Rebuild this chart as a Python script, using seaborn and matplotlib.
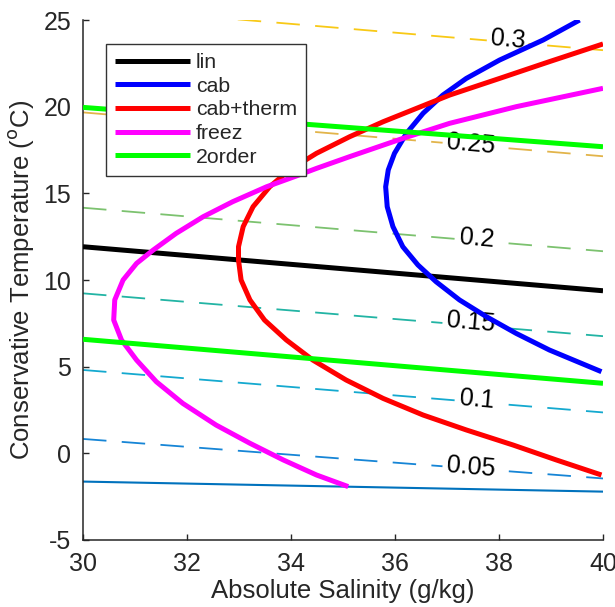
import matplotlib
matplotlib.use('Agg')
import matplotlib.pyplot as plt
import seaborn as sns

# ---- datos (S en g/kg, T en grados C) ----
lin_s = [30, 40]
lin_t = [11.92, 9.38]

cab_s = [39.97, 38.97, 38.33, 37.76, 37.24, 36.79, 36.44, 36.15, 35.96, 35.85, 35.82,
         35.87, 35.99, 36.22, 36.54, 36.92, 37.37, 38.01, 38.85, 39.55]
cab_t = [4.71, 5.96, 6.92, 7.88, 8.85, 9.9, 10.87, 11.92, 13.08, 14.23, 15.38,
         16.35, 17.31, 18.46, 19.62, 20.67, 21.63, 22.69, 23.85, 25.0]

therm_s = [39.97, 39.1, 38.27, 37.37, 36.54, 35.77, 35.06, 34.42, 33.91, 33.49, 33.21,
           33.04, 32.99, 32.99, 33.08, 33.27, 33.59, 33.97, 34.49, 35.13, 35.77, 36.41,
           37.05, 38.01, 38.97, 40.0]
therm_t = [-1.25, -0.38, 0.48, 1.35, 2.21, 3.17, 4.23, 5.38, 6.54, 7.69, 8.85,
           10.0, 11.15, 11.92, 13.08, 14.23, 15.38, 16.35, 17.31, 18.27, 19.13, 19.9,
           20.67, 21.63, 22.6, 23.62]

freez_s = [35.1, 34.49, 33.85, 33.21, 32.56, 31.92, 31.41, 31.03, 30.74, 30.59, 30.61,
           30.77, 31.03, 31.35, 31.79, 32.31, 32.88, 33.53, 34.1, 34.49, 35.13, 36.15,
           37.05, 38.33, 40.0]
freez_t = [-1.92, -1.25, -0.38, 0.58, 1.63, 2.88, 4.13, 5.38, 6.54, 7.69, 8.85,
           10.0, 10.96, 11.73, 12.69, 13.65, 14.52, 15.38, 16.0, 16.44, 17.12, 18.17,
           19.04, 20.0, 21.06]

order2_s = [30, 40]
order2_t_up = [19.96, 17.69]
order2_t_low = [6.58, 4.04]

# linea de congelamiento (solida, delgada)
frz_s = [30, 35, 40]
frz_t = [-1.63, -1.92, -2.21]

# contornos discontinuos: T en S=30 y S=40
niveles = ['0.05', '0.1', '0.15', '0.2', '0.25', '0.3']
cont_s = [30, 40]
cont_t30 = [0.83, 4.81, 9.23, 14.17, 19.67, 25.79]
cont_t40 = [-1.45, 2.36, 6.76, 11.66, 17.14, 23.26]
colores_cont = ['#1685d6', '#14a9cf', '#22b4a4', '#7cc26f', '#e2b44a', '#f8c916']
etiqueta_s = [37.45, 37.58, 37.45, 37.58, 37.45, 38.17]
etiqueta_t = [-0.79, 3.13, 7.56, 12.37, 17.85, 23.85]

# ---- estilo ----
sns.set_style('ticks')
plt.rcParams['font.family'] = ['Liberation Sans', 'DejaVu Sans']
plt.rcParams['axes.unicode_minus'] = False
plt.rcParams['text.color'] = '#262626'
plt.rcParams['axes.labelcolor'] = '#262626'

fig = plt.figure(figsize=(6.15, 6.07), dpi=100)
ax = fig.add_axes([0.135, 0.1104, 0.8455, 0.8566])

# contornos
for i, nv in enumerate(niveles):
    sns.lineplot(x=cont_s, y=[cont_t30[i], cont_t40[i]], ax=ax, color=colores_cont[i],
                 linewidth=1.3, zorder=1).lines[-1].set_dashes((13, 8.5))
    ax.text(etiqueta_s[i], etiqueta_t[i], nv, fontsize=18, rotation=-5, ha='center', va='center',
            color='black', zorder=2,
            bbox=dict(facecolor='white', edgecolor='none', pad=2.5))

sns.lineplot(x=frz_s, y=frz_t, ax=ax, color='#0072bd', linewidth=1.5, zorder=2)

lw = 3.6
sns.lineplot(x=lin_s, y=lin_t, ax=ax, color='black', linewidth=lw, label='lin', zorder=3)
sns.lineplot(x=cab_s, y=cab_t, ax=ax, color='#0000ff', linewidth=lw, sort=False, estimator=None, label='cab', zorder=3)
sns.lineplot(x=therm_s, y=therm_t, ax=ax, color='#ff0000', linewidth=lw, sort=False, estimator=None, label='cab+therm', zorder=3)
sns.lineplot(x=freez_s, y=freez_t, ax=ax, color='#ff00ff', linewidth=lw, sort=False, estimator=None, label='freez', zorder=3)
sns.lineplot(x=order2_s, y=order2_t_up, ax=ax, color='#00ff00', linewidth=lw, label='2order', zorder=3)
sns.lineplot(x=order2_s, y=order2_t_low, ax=ax, color='#00ff00', linewidth=lw, zorder=3)
for ln in ax.lines:
    ln.set_solid_capstyle('butt')
    ln.set_solid_joinstyle('round')

handles, labels = ax.get_legend_handles_labels()
leg = ax.legend(handles, labels, loc='upper left', bbox_to_anchor=(0.0442, 0.9538), borderaxespad=0,
                fontsize=15.3, handlelength=3.55, handletextpad=0.25, labelspacing=0.22,
                fancybox=False, framealpha=1, edgecolor='#333333', borderpad=0.42)
leg.get_frame().set_linewidth(1.0)
leg.set_zorder(5)

ax.set_xlim(30, 40)
ax.set_ylim(-5, 25)
ax.set_xticks([30, 32, 34, 36, 38, 40])
ax.set_yticks([-5, 0, 5, 10, 15, 20, 25])
ax.tick_params(direction='in', length=4.3, width=1.0, labelsize=18, pad=8.5, colors='#262626')
for lado in ['top', 'right']:
    ax.spines[lado].set_visible(False)
for lado in ['left', 'bottom']:
    ax.spines[lado].set_linewidth(1.1)
    ax.spines[lado].set_color('#262626')
ax.set_xlabel('Absolute Salinity (g/kg)', fontsize=18.5, labelpad=2.5)
ax.set_ylabel('Conservative Temperature ($^{\\mathrm{o}}$C)', fontsize=18.5, labelpad=5.5)

plt.savefig('out.png', dpi=100)
